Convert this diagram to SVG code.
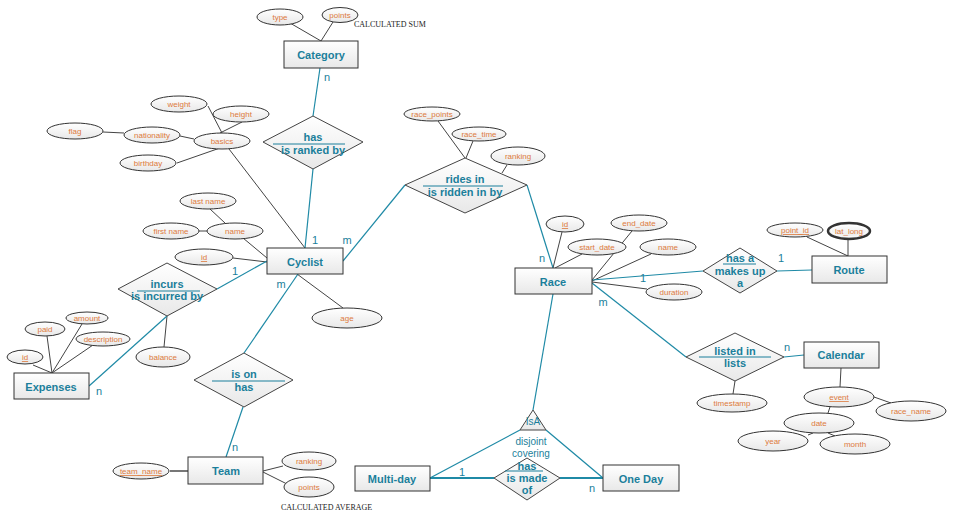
<svg xmlns="http://www.w3.org/2000/svg" width="955" height="519" viewBox="0 0 955 519">
<defs>
<linearGradient id="g" x1="0" y1="0" x2="0" y2="1">
<stop offset="0" stop-color="#ffffff"/><stop offset="1" stop-color="#e8e8e8"/>
</linearGradient>
</defs>
<style>
.ent{fill:url(#g);stroke:#333;stroke-width:1}
.att{fill:url(#g);stroke:#333;stroke-width:1}
.rel{fill:url(#g);stroke:#444;stroke-width:1}
.et{font-family:"Liberation Sans",Arial,sans-serif;font-size:11px;font-weight:bold;fill:#1b7f9b;text-anchor:middle}
.rt{font-family:"Liberation Sans",Arial,sans-serif;font-size:11px;font-weight:bold;fill:#1b7f9b;text-anchor:middle}
.at{font-family:"Liberation Sans",Arial,sans-serif;font-size:8px;fill:#dd7a3c;text-anchor:middle}
.u{text-decoration:underline}
.card{font-family:"Liberation Sans",Arial,sans-serif;font-size:11px;fill:#1b7f9b;text-anchor:middle}
.note{font-family:"Liberation Serif","Times New Roman",serif;font-size:8px;fill:#222}
.al{stroke:#444;stroke-width:1;fill:none}
.rl{stroke:#1f8aa6;stroke-width:1.2;fill:none}
.rl2{stroke:#1f8aa6;stroke-width:2;fill:none}
.ul{stroke:#1b7f9b;stroke-width:1}
</style>

<g id="connectors">
<!-- attribute lines -->
<line class="al" x1="290" y1="23" x2="321" y2="41"/>
<line class="al" x1="333" y1="22" x2="321" y2="41"/>
<line class="al" x1="208" y1="106" x2="222" y2="133"/>
<line class="al" x1="242" y1="122" x2="220" y2="133"/>
<line class="al" x1="103" y1="132" x2="124" y2="133"/>
<line class="al" x1="180" y1="136" x2="194" y2="139"/>
<line class="al" x1="177" y1="163" x2="220" y2="148"/>
<line class="al" x1="229" y1="149" x2="305" y2="248"/>
<line class="al" x1="210" y1="209" x2="225" y2="223"/>
<line class="al" x1="199" y1="231" x2="207" y2="231"/>
<line class="al" x1="243" y1="238" x2="267" y2="258"/>
<line class="al" x1="233" y1="258" x2="267" y2="262"/>
<line class="al" x1="297" y1="274" x2="343" y2="308"/>
<line class="al" x1="438" y1="121" x2="465" y2="158"/>
<line class="al" x1="473" y1="141" x2="466" y2="158"/>
<line class="al" x1="507" y1="165" x2="502" y2="173"/>
<line class="al" x1="562" y1="232" x2="553" y2="268"/>
<line class="al" x1="582" y1="254" x2="555" y2="268"/>
<line class="al" x1="632" y1="231" x2="592" y2="280"/>
<line class="al" x1="651" y1="254" x2="592" y2="281"/>
<line class="al" x1="647" y1="289" x2="592" y2="282"/>
<line class="al" x1="807" y1="237" x2="848" y2="256"/>
<line class="al" x1="848" y1="239" x2="848" y2="256"/>
<line class="al" x1="735" y1="381" x2="733" y2="394"/>
<line class="al" x1="841" y1="368" x2="840" y2="387"/>
<line class="al" x1="874" y1="397" x2="891" y2="403"/>
<line class="al" x1="830" y1="407" x2="828" y2="413"/>
<line class="al" x1="808" y1="435" x2="813" y2="433"/>
<line class="al" x1="828" y1="433" x2="835" y2="436"/>
<line class="al" x1="167" y1="316" x2="164" y2="347"/>
<line class="al" x1="33" y1="365" x2="52" y2="373"/>
<line class="al" x1="47" y1="336" x2="52" y2="373"/>
<line class="al" x1="82" y1="324" x2="52" y2="373"/>
<line class="al" x1="93" y1="345" x2="52" y2="373"/>
<line class="al" x1="170" y1="471" x2="188" y2="471" style="stroke-width:2;stroke:#777"/>
<line class="al" x1="263" y1="471" x2="283" y2="466"/>
<line class="al" x1="263" y1="472" x2="287" y2="484"/>
<!-- relationship lines -->
<line class="rl" x1="320" y1="68" x2="313" y2="116"/>
<line class="rl" x1="313" y1="169" x2="305" y2="248"/>
<line class="rl" x1="343" y1="261" x2="405" y2="185"/>
<line class="rl" x1="527" y1="185" x2="553" y2="268"/>
<line class="rl" x1="592" y1="280" x2="703" y2="271"/>
<line class="rl" x1="777" y1="271" x2="812" y2="270"/>
<line class="rl" x1="592" y1="283" x2="686" y2="357"/>
<line class="rl" x1="784" y1="357" x2="804" y2="355"/>
<line class="rl" x1="217" y1="289" x2="267" y2="261"/>
<line class="rl" x1="167" y1="316" x2="89" y2="386"/>
<line class="rl" x1="298" y1="274" x2="244" y2="353"/>
<line class="rl" x1="243" y1="407" x2="226" y2="457"/>
<line class="rl" x1="553" y1="294" x2="533" y2="410"/>
<line class="rl" x1="520" y1="430" x2="430" y2="478"/>
<line class="rl" x1="546" y1="430" x2="603" y2="478"/>
<line class="rl2" x1="430" y1="478" x2="494" y2="478"/>
<line class="rl2" x1="560" y1="478" x2="603" y2="478"/>
<!-- cardinalities -->
<text class="card" x="327" y="81">n</text>
<text class="card" x="315" y="244">1</text>
<text class="card" x="347" y="244">m</text>
<text class="card" x="542" y="262">n</text>
<text class="card" x="643" y="282">1</text>
<text class="card" x="781" y="262">1</text>
<text class="card" x="603" y="306">m</text>
<text class="card" x="787" y="351">n</text>
<text class="card" x="235" y="275">1</text>
<text class="card" x="99" y="395">n</text>
<text class="card" x="281" y="288">m</text>
<text class="card" x="235" y="451">n</text>
<text class="card" x="462" y="476">1</text>
<text class="card" x="592" y="492">n</text>
</g>

<g id="category">
<rect class="ent" x="284" y="41" width="74" height="27"/>
<text class="et" x="321" y="59">Category</text>
</g>
<g id="attr-type"><ellipse class="att" cx="280" cy="17" rx="23" ry="8"/><text class="at" x="280" y="20">type</text></g>
<g id="attr-points"><ellipse class="att" cx="340" cy="15" rx="18" ry="7.5"/><text class="at" x="340" y="18">points</text></g>
<text class="note" x="354" y="27">CALCULATED SUM</text>

<g id="rel-ranked">
<polygon class="rel" points="263,142 313,116 363,142 313,169"/>
<text class="rt" x="313" y="141">has</text>
<line class="ul" x1="273" y1="144" x2="345" y2="144"/>
<text class="rt" x="313" y="154">is ranked by</text>
</g>

<g id="cyclist">
<rect class="ent" x="267" y="248" width="76" height="26"/>
<text class="et" x="305" y="266">Cyclist</text>
</g>
<g id="attr-weight"><ellipse class="att" cx="179" cy="104" rx="28" ry="8"/><text class="at" x="179" y="107">weight</text></g>
<g id="attr-height"><ellipse class="att" cx="241" cy="114" rx="28" ry="8"/><text class="at" x="241" y="117">height</text></g>
<g id="attr-flag"><ellipse class="att" cx="75" cy="131" rx="28" ry="8"/><text class="at" x="75" y="134">flag</text></g>
<g id="attr-nationality"><ellipse class="att" cx="152" cy="135" rx="28" ry="8"/><text class="at" x="152" y="138">nationality</text></g>
<g id="attr-basics"><ellipse class="att" cx="222" cy="141" rx="28" ry="8"/><text class="at" x="222" y="144">basics</text></g>
<g id="attr-birthday"><ellipse class="att" cx="148" cy="163" rx="28" ry="8"/><text class="at" x="148" y="166">birthday</text></g>
<g id="attr-lastname"><ellipse class="att" cx="208" cy="201" rx="28" ry="8"/><text class="at" x="208" y="204">last name</text></g>
<g id="attr-firstname"><ellipse class="att" cx="171" cy="231" rx="28" ry="8"/><text class="at" x="171" y="234">first name</text></g>
<g id="attr-name"><ellipse class="att" cx="235" cy="231" rx="28" ry="8"/><text class="at" x="235" y="234">name</text></g>
<g id="attr-cyclist-id"><ellipse class="att" cx="204" cy="257" rx="29" ry="8"/><text class="at u" x="204" y="260">id</text></g>
<g id="attr-age"><ellipse class="att" cx="347" cy="318" rx="35" ry="10"/><text class="at" x="347" y="321">age</text></g>

<g id="rel-rides">
<polygon class="rel" points="405,185 465,158 527,185 465,213"/>
<text class="rt" x="465" y="183">rides in</text>
<line class="ul" x1="423" y1="186" x2="503" y2="186"/>
<text class="rt" x="465" y="196">is ridden in by</text>
</g>
<g id="attr-race-points"><ellipse class="att" cx="432" cy="114" rx="28" ry="7"/><text class="at" x="432" y="117">race_points</text></g>
<g id="attr-race-time"><ellipse class="att" cx="479" cy="134" rx="27" ry="7"/><text class="at" x="479" y="137">race_time</text></g>
<g id="attr-ranking"><ellipse class="att" cx="518" cy="156" rx="27" ry="9"/><text class="at" x="518" y="159">ranking</text></g>

<g id="race">
<rect class="ent" x="515" y="268" width="77" height="26"/>
<text class="et" x="553" y="286">Race</text>
</g>
<g id="attr-race-id"><ellipse class="att" cx="565" cy="224" rx="19" ry="8"/><text class="at u" x="565" y="227">id</text></g>
<g id="attr-start-date"><ellipse class="att" cx="597" cy="247" rx="29" ry="8"/><text class="at" x="597" y="250">start_date</text></g>
<g id="attr-end-date"><ellipse class="att" cx="639" cy="223" rx="28" ry="8"/><text class="at" x="639" y="226">end_date</text></g>
<g id="attr-race-name"><ellipse class="att" cx="668" cy="247" rx="28" ry="8"/><text class="at" x="668" y="250">name</text></g>
<g id="attr-duration"><ellipse class="att" cx="674" cy="292" rx="28" ry="8"/><text class="at" x="674" y="295">duration</text></g>

<g id="rel-hasa">
<polygon class="rel" points="703,271 740,248 777,271 740,293"/>
<text class="rt" x="740" y="262">has a</text>
<line class="ul" x1="723" y1="264" x2="756" y2="264"/>
<text class="rt" x="740" y="275">makes up</text>
<text class="rt" x="740" y="287">a</text>
</g>

<g id="route">
<rect class="ent" x="812" y="256" width="75" height="27"/>
<text class="et" x="849" y="274">Route</text>
</g>
<g id="attr-point-id"><ellipse class="att" cx="795" cy="230" rx="28" ry="7"/><text class="at u" x="795" y="233">point_id</text></g>
<g id="attr-lat-long"><ellipse class="att" cx="849" cy="231" rx="21" ry="8" style="stroke-width:2.5"/><ellipse cx="849" cy="231" rx="18" ry="5.5" fill="none" stroke="#fff" stroke-width="0.8"/><text class="at" x="849" y="234">lat_long</text></g>

<g id="rel-listed">
<polygon class="rel" points="686,357 735,333 784,357 735,381"/>
<text class="rt" x="735" y="355">listed in</text>
<line class="ul" x1="699" y1="357" x2="771" y2="357"/>
<text class="rt" x="735" y="367">lists</text>
</g>
<g id="attr-timestamp"><ellipse class="att" cx="732" cy="403" rx="35" ry="9"/><text class="at" x="732" y="406">timestamp</text></g>

<g id="calendar">
<rect class="ent" x="804" y="342" width="75" height="26"/>
<text class="et" x="841" y="359">Calendar</text>
</g>
<g id="attr-event"><ellipse class="att" cx="839" cy="397" rx="35" ry="10"/><text class="at u" x="839" y="400">event</text></g>
<g id="attr-cal-race-name"><ellipse class="att" cx="911" cy="411" rx="35" ry="10"/><text class="at" x="911" y="414">race_name</text></g>
<g id="attr-date"><ellipse class="att" cx="819" cy="423" rx="35" ry="10"/><text class="at" x="819" y="426">date</text></g>
<g id="attr-year"><ellipse class="att" cx="773" cy="441" rx="35" ry="10"/><text class="at" x="773" y="444">year</text></g>
<g id="attr-month"><ellipse class="att" cx="855" cy="444" rx="35" ry="10"/><text class="at" x="855" y="447">month</text></g>

<g id="rel-incurs">
<polygon class="rel" points="118,289 167,263 217,289 167,316"/>
<text class="rt" x="167" y="288">incurs</text>
<line class="ul" x1="137" y1="291" x2="200" y2="291"/>
<text class="rt" x="167" y="300">is incurred by</text>
</g>
<g id="attr-balance"><ellipse class="att" cx="163" cy="357" rx="27" ry="10"/><text class="at" x="163" y="360">balance</text></g>

<g id="expenses">
<rect class="ent" x="14" y="373" width="75" height="26"/>
<text class="et" x="51" y="391">Expenses</text>
</g>
<g id="attr-exp-id"><ellipse class="att" cx="25" cy="357" rx="18" ry="7"/><text class="at u" x="25" y="360">id</text></g>
<g id="attr-paid"><ellipse class="att" cx="45" cy="329" rx="20" ry="7"/><text class="at" x="45" y="332">paid</text></g>
<g id="attr-amount"><ellipse class="att" cx="87" cy="318" rx="21" ry="6"/><text class="at" x="87" y="321">amount</text></g>
<g id="attr-description"><ellipse class="att" cx="103" cy="339" rx="27" ry="7"/><text class="at" x="103" y="342">description</text></g>

<g id="rel-ison">
<polygon class="rel" points="194,380 244,353 293,380 244,407"/>
<text class="rt" x="244" y="378">is on</text>
<line class="ul" x1="212" y1="381" x2="285" y2="381"/>
<text class="rt" x="244" y="391">has</text>
</g>

<g id="team">
<rect class="ent" x="188" y="457" width="75" height="27"/>
<text class="et" x="226" y="475">Team</text>
</g>
<g id="attr-team-name"><ellipse class="att" cx="141" cy="471" rx="28" ry="8"/><text class="at u" x="141" y="474">team_name</text></g>
<g id="attr-team-ranking"><ellipse class="att" cx="309" cy="461" rx="27" ry="9"/><text class="at" x="309" y="464">ranking</text></g>
<g id="attr-team-points"><ellipse class="att" cx="309" cy="487" rx="25" ry="10"/><text class="at" x="309" y="490">points</text></g>
<text class="note" x="281" y="510">CALCULATED AVERAGE</text>

<g id="isa">
<polygon class="rel" points="533,410 520,430 546,430"/>
<text class="card" x="533" y="425" style="font-size:10px">IsA</text>
<text class="card" x="531" y="445" style="font-size:10px">disjoint</text>
<text class="card" x="531" y="457" style="font-size:10px">covering</text>
</g>

<g id="rel-madeof">
<polygon class="rel" points="494,478 527,458 560,478 527,500"/>
<text class="rt" x="527" y="470">has</text>
<line class="ul" x1="505" y1="471" x2="543" y2="471"/>
<text class="rt" x="527" y="482">is made</text>
<text class="rt" x="527" y="494">of</text>
</g>

<g id="multiday">
<rect class="ent" x="355" y="466" width="75" height="25"/>
<text class="et" x="392" y="483">Multi-day</text>
</g>
<g id="oneday">
<rect class="ent" x="603" y="465" width="76" height="26"/>
<text class="et" x="641" y="483">One Day</text>
</g>
</svg>
